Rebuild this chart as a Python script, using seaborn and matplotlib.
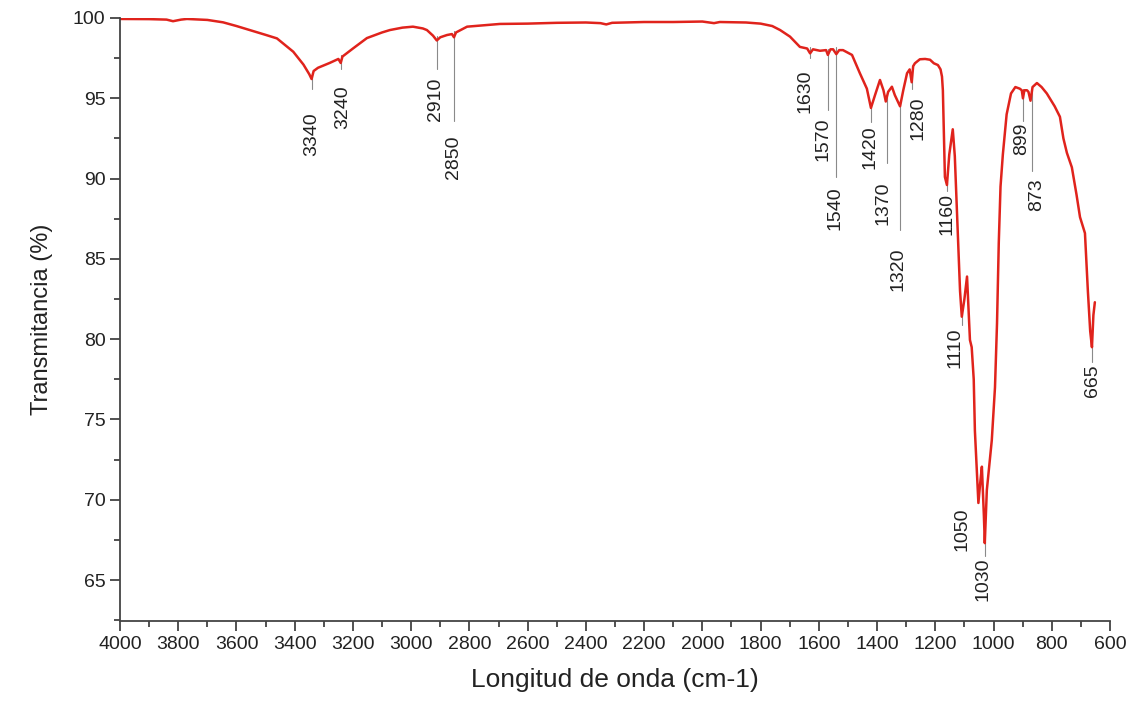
import numpy as np
import pandas as pd
import seaborn as sns
import matplotlib.pyplot as plt
from matplotlib.ticker import MultipleLocator

# FTIR spectrum
wavenumber = [4000, 3900, 3840, 3818, 3790, 3770, 3700, 3646, 3600, 3554, 3500, 3461,
              3405, 3370, 3350, 3342, 3335, 3320, 3280, 3250, 3242, 3236, 3200, 3152,
              3100, 3073, 3030, 2994, 2960, 2946, 2925, 2912, 2900, 2877, 2860, 2853,
              2846, 2808, 2750, 2695, 2600, 2500, 2400, 2350, 2330, 2310, 2200, 2100,
              2000, 1960, 1940, 1850, 1800, 1760, 1733, 1699, 1665, 1640, 1630, 1620,
              1596, 1575, 1569, 1560, 1551, 1540, 1530, 1517, 1486, 1459, 1435, 1421,
              1407, 1390, 1378, 1370, 1362, 1349, 1339, 1321, 1310, 1297, 1288, 1281,
              1276, 1270, 1253, 1235, 1218, 1205, 1191, 1182, 1177, 1174, 1167, 1160,
              1152, 1140, 1133, 1122, 1115, 1109, 1100, 1091, 1081, 1075, 1068, 1064,
              1057, 1052, 1046, 1040, 1033, 1030, 1023, 1006, 995, 988, 982, 976,
              968, 955, 940, 925, 910, 903, 899, 894, 885, 880, 873, 866,
              851, 835, 817, 790, 772, 760, 748, 731, 715, 703, 686, 676,
              668, 662, 657, 652]
transmittance = [99.94, 99.93, 99.9, 99.8, 99.9, 99.94, 99.88, 99.73, 99.5, 99.25, 98.95, 98.73,
                 97.9, 97.1, 96.5, 96.2, 96.7, 96.9, 97.2, 97.45, 97.2, 97.6, 98.1, 98.75,
                 99.1, 99.25, 99.4, 99.46, 99.35, 99.25, 98.9, 98.6, 98.8, 98.94, 99.0, 98.8,
                 99.1, 99.46, 99.55, 99.63, 99.65, 99.7, 99.72, 99.68, 99.6, 99.7, 99.75, 99.75,
                 99.78, 99.68, 99.75, 99.72, 99.65, 99.5, 99.25, 98.84, 98.2, 98.1, 97.8, 98.05,
                 97.96, 98.0, 97.7, 98.05, 98.05, 97.75, 98.0, 98.0, 97.7, 96.56, 95.6, 94.4,
                 95.2, 96.14, 95.5, 94.8, 95.4, 95.72, 95.2, 94.5, 95.5, 96.56, 96.8, 96.0,
                 97.0, 97.18, 97.43, 97.45, 97.4, 97.18, 97.07, 96.8, 96.35, 95.5, 90.1, 89.6,
                 91.5, 93.07, 91.4, 86.2, 83.0, 81.4, 82.5, 83.9, 79.95, 79.5, 77.5, 74.3,
                 71.6, 69.8, 71.0, 72.06, 68.95, 67.3, 70.6, 73.7, 77.0, 81.0, 86.0, 89.5,
                 91.5, 94.0, 95.3, 95.7, 95.6, 95.5, 95.0, 95.5, 95.5, 95.4, 94.85, 95.7,
                 95.95, 95.7, 95.3, 94.5, 93.85, 92.5, 91.6, 90.7, 89.0, 87.6, 86.6, 83.0,
                 80.5, 79.5, 81.5, 82.3]

# peak labels
peak_labels = ["3340", "3240", "2910", "2850", "1630", "1570", "1540", "1420", "1370",
               "1320", "1280", "1160", "1110", "1050", "1030", "899", "873", "665"]
# where the label text sits (x centre, top of text)
label_x = [3341, 3234, 2918, 2853, 1648, 1586, 1545, 1424, 1380,
           1328, 1260, 1160, 1133, 1108, 1036, 903, 851, 659]
label_top = [94.1, 95.8, 96.3, 92.7, 96.8, 93.8, 89.5, 93.3, 89.8,
             85.7, 95.1, 89.1, 80.7, 69.5, 66.4, 93.5, 90.0, 78.4]
# leader lines (x, from, to)
line_x = [3342, 3242, 2912, 2853, 1630, 1569, 1540, 1421, 1366,
          1321, 1281, 1160, 1109, 1052, 1030, 899, 868, 662]
line_from = [96.6, 97.7, 98.9, 99.2, 98.2, 98.1, 98.2, 94.6, 95.1,
             94.9, 96.5, 89.8, 81.6, 69.9, 67.4, 95.6, 95.5, 79.7]
line_to = [95.6, 96.8, 96.8, 93.6, 97.5, 94.3, 90.1, 93.5, 91.0,
           86.8, 95.6, 89.2, 80.9, 69.8, 66.5, 93.6, 90.5, 78.6]

df = pd.DataFrame({"wn": wavenumber, "tr": transmittance})

sns.set_theme(style="ticks")
plt.rcParams['font.family'] = ['Liberation Sans', 'DejaVu Sans']

fig = plt.figure(figsize=(11.37, 7.09), dpi=100)
ax = fig.add_axes([120 / 1137, 88 / 709, 990 / 1137, 603 / 709])

sns.lineplot(data=df, x="wn", y="tr", sort=False, estimator=None,
             color="#e0231c", lw=1.8, ax=ax)

for x, y0, y1 in zip(line_x, line_from, line_to):
    ax.plot([x, x], [y0, y1], color="#8a8a8a", lw=0.8, zorder=1)

for lab, x, y in zip(peak_labels, label_x, label_top):
    ax.text(x, y, lab, rotation=90, ha="center", va="top",
            fontsize=14, color="#222222")

ax.set_xlim(4000, 600)
ax.set_ylim(62.45, 100)
ax.xaxis.set_major_locator(MultipleLocator(200))
ax.xaxis.set_minor_locator(MultipleLocator(100))
ax.yaxis.set_major_locator(MultipleLocator(5))
ax.yaxis.set_minor_locator(MultipleLocator(2.5))
ax.tick_params(which="major", length=7, width=1.2, direction="out",
               labelsize=14, color="#333333", labelcolor="#222222")
ax.tick_params(which="minor", length=4, width=1.2, direction="out", color="#333333")

sns.despine(ax=ax)
for s in ["left", "bottom"]:
    ax.spines[s].set_color("#444444")
    ax.spines[s].set_linewidth(1.3)

ax.set_xlabel("Longitud de onda (cm-1)", fontsize=19, color="#222222", labelpad=11)
ax.set_ylabel("Transmitancia (%)", fontsize=17, color="#222222", labelpad=14)

fig.savefig("out.png", dpi=100)
